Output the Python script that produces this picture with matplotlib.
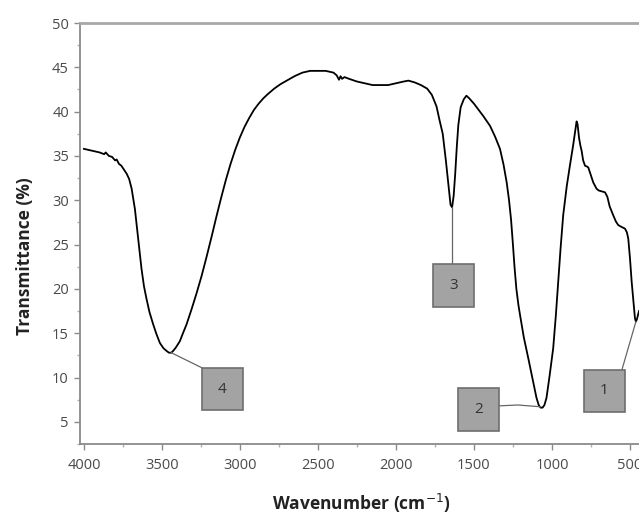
import matplotlib
matplotlib.use('Agg')
import matplotlib.pyplot as plt
from matplotlib.patches import Rectangle
from matplotlib.ticker import MultipleLocator

# FTIR spectrum
wavenumber = [
    4000, 3950, 3900, 3870, 3860, 3840, 3820, 3800, 3790, 3775, 3760, 3745,
    3726, 3710, 3694, 3673, 3652, 3631, 3615, 3599, 3580, 3556, 3535, 3513,
    3490, 3470, 3455, 3440, 3428, 3410, 3385, 3365, 3342, 3310, 3278, 3245,
    3214, 3180, 3150, 3120, 3090, 3060, 3030, 3000, 2970, 2940, 2910, 2880,
    2850, 2820, 2780, 2740, 2700, 2650, 2600, 2550, 2500, 2450, 2400, 2380,
    2365, 2355, 2345, 2330, 2300, 2250, 2200, 2150, 2100, 2050, 2000, 1950,
    1920, 1880, 1840, 1800, 1770, 1740, 1720, 1700, 1680, 1665, 1650, 1640,
    1630, 1620, 1610, 1600, 1585, 1565, 1548, 1530, 1500, 1470, 1440, 1397,
    1365, 1333, 1310, 1290, 1275, 1262, 1250, 1240, 1228, 1215, 1205, 1180,
    1152, 1125, 1099, 1085, 1073, 1060, 1048, 1035, 1015, 992, 975, 960,
    945, 928, 905, 885, 865, 850, 842, 836, 826, 818, 810, 800,
    788, 775, 767, 750, 735, 714, 700, 680, 660, 645, 630, 607,
    590, 575, 555, 532, 520, 511, 500, 489, 478, 468, 462, 455,
    442,
]
transmittance = [
    35.8, 35.6, 35.4, 35.2, 35.4, 35.0, 34.9, 34.5, 34.6, 34.1, 33.9, 33.5,
    33.0, 32.4, 31.3, 29.0, 25.7, 22.3, 20.3, 18.9, 17.4, 16.0, 14.9, 13.9,
    13.3, 13.0, 12.8, 12.8, 13.0, 13.4, 14.1, 15.0, 16.0, 17.7, 19.5, 21.5,
    23.6, 26.0, 28.2, 30.3, 32.3, 34.1, 35.7, 37.1, 38.3, 39.3, 40.2, 40.9,
    41.5, 42.0, 42.6, 43.1, 43.5, 44.0, 44.4, 44.6, 44.6, 44.6, 44.4, 44.1,
    43.6, 44.0, 43.7, 43.9, 43.7, 43.4, 43.2, 43.0, 43.0, 43.0, 43.2, 43.4,
    43.5, 43.3, 43.0, 42.6, 41.9, 40.6, 39.0, 37.5, 34.5, 32.0, 29.5, 29.2,
    30.5, 33.0, 36.0, 38.5, 40.5, 41.4, 41.8, 41.5, 40.9, 40.2, 39.5, 38.4,
    37.2, 35.8, 34.0, 32.0, 30.0, 27.8, 25.0, 22.5, 20.0, 18.2, 17.1, 14.5,
    12.2, 9.9, 7.7, 6.9, 6.6, 6.6, 6.9, 7.7, 10.2, 13.3, 17.0, 20.8,
    24.5, 28.3, 31.6, 33.9, 36.1, 37.9, 38.9, 38.6, 37.0, 36.2, 35.6, 34.5,
    33.9, 33.8, 33.7, 32.8, 32.0, 31.3, 31.1, 31.0, 30.9, 30.4, 29.3, 28.3,
    27.6, 27.2, 27.0, 26.8, 26.4, 25.7, 23.5, 20.8, 18.6, 16.7, 16.3, 16.6,
    17.5,
]

peak_labels = ['1', '2', '3', '4']

plt.rcParams['font.family'] = ['Open Sans', 'DejaVu Sans']

fig = plt.figure(figsize=(6.39, 5.15), dpi=100)
ax = fig.add_axes([0.1252, 0.1379, 0.8748, 0.8174])

ax.plot(wavenumber, transmittance, color='black', linewidth=1.3)

ax.set_xlim(4025, 442)
ax.set_ylim(2.5, 50)
ax.xaxis.set_major_locator(MultipleLocator(500))
ax.xaxis.set_minor_locator(MultipleLocator(250))
ax.yaxis.set_minor_locator(MultipleLocator(2.5))
ax.set_yticks(range(5, 51, 5))

spine_col = '#8a8a8a'
for side in ['left', 'bottom', 'top']:
    ax.spines[side].set_color(spine_col)
    ax.spines[side].set_linewidth(1.3)
ax.spines['top'].set_linewidth(2.0)
ax.spines['top'].set_color('#a8a8a8')
ax.spines['right'].set_visible(False)

ax.tick_params(which='major', direction='out', length=4, width=1, color=spine_col,
               labelsize=10.5, labelcolor='#4a4a4a')
ax.tick_params(axis='x', which='major', pad=6)
ax.tick_params(axis='y', which='major', pad=4)
ax.tick_params(which='minor', direction='out', length=2.5, width=1, color='#b0b0b0')

fig.text(0.566, 0.022, 'Wavenumber (cm$^{-1}$)', fontsize=12.5, fontweight='bold',
         color='#222222', ha='center', va='center')
fig.text(0.039, 0.503, 'Transmittance (%)', fontsize=12.5, fontweight='bold',
         color='#222222', ha='center', va='center', rotation=90)

# labelled boxes with leader lines
box_w, box_h = 263, 4.8
boxes = {
    '4': (3244, 6.3),
    '3': (1763, 18.0),
    '2': (1603, 4.0),
    '1': (795, 6.1),
}
leaders = {
    '4': ([3440, 3244], [12.8, 11.1]),
    '3': ([1640, 1640], [29.2, 22.8]),
    '2': ([1340, 1220, 1073], [6.8, 6.9, 6.7]),
    '1': ([551, 462], [10.9, 16.3]),
}
for lab in peak_labels:
    lx, ly = leaders[lab]
    ax.plot(lx, ly, color='#666666', linewidth=0.9, zorder=2)
    x0, y0 = boxes[lab]
    ax.add_patch(Rectangle((x0, y0), -box_w, box_h, facecolor='#a3a3a3',
                           edgecolor='#6e6e6e', linewidth=1.2, zorder=3))
    ax.text(x0 - box_w / 2, y0 + box_h / 2, lab, ha='center', va='center',
            fontsize=11, color='#333333', zorder=4)

fig.savefig('out.png', dpi=100, facecolor='white')
